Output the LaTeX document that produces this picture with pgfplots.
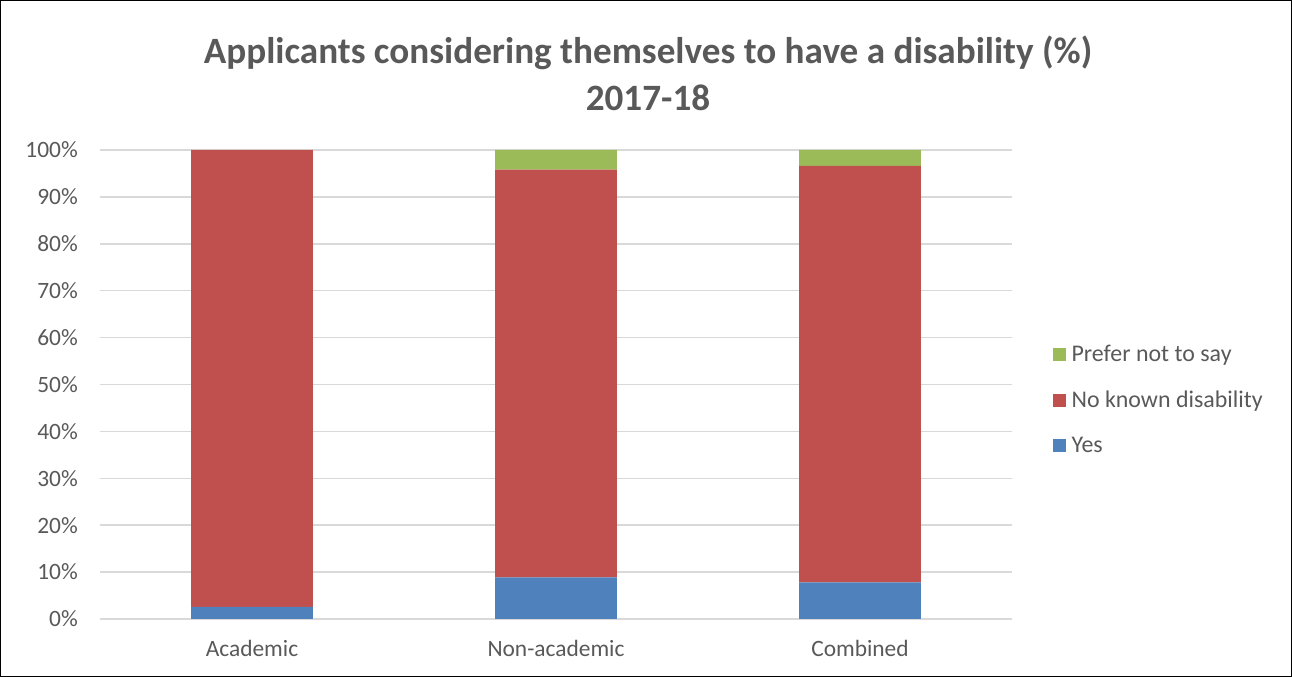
\documentclass[border=0pt]{standalone}
\usepackage{pgfplots}
\pgfplotsset{compat=1.18}
\usepackage{fontspec}
\setmainfont{Carlito}
\definecolor{cblue}{HTML}{4F81BD}
\definecolor{cred}{HTML}{C0504D}
\definecolor{cgreen}{HTML}{9BBB59}
\definecolor{cgrid}{HTML}{D9D9D9}
\definecolor{ctext}{HTML}{595959}
\begin{document}
\begin{tikzpicture}
\path[use as bounding box] (0bp,0bp) rectangle (1292bp,677bp);
\draw[black, line width=1.2bp] (0.6bp,0.6bp) rectangle (1291.4bp,676.4bp);
\node[font=\bfseries\fontsize{37.3}{47}\selectfont, text=ctext, align=center] at (648bp,604bp) {Applicants considering themselves to have a disability (\%)\\2017-18};
\begin{axis}[
  at={(100bp,58bp)}, anchor=south west,
  scale only axis, width=912bp, height=469bp,
  ybar stacked, bar width=0.4,
  xmin=-0.5, xmax=2.5, ymin=0, ymax=100,
  xtick={0,1,2}, xticklabels={Academic,Non-academic,Combined},
  ytick={0,10,...,100},
  yticklabel={\pgfmathprintnumber{\tick}\%},
  /pgf/number format/assume math mode=true,
  axis line style={draw=none},
  major tick length=0,
  ymajorgrids, grid style={cgrid, line width=1.5bp},
  tick label style={font=\fontsize{23.5}{28}\selectfont, text=ctext},
  yticklabel style={inner sep=0pt, xshift=-22bp},
  xticklabel style={inner sep=0pt, anchor=north, yshift=-21bp},
  legend style={at={(1.041,0.468)}, anchor=west, draw=none, fill=none,
    font=\fontsize{24}{28}\selectfont, text=ctext, row sep=24bp,
    /tikz/every odd column/.append style={column sep=4bp}},
  legend cell align=left,
  reverse legend,
  legend image code/.code={\fill[#1] (0bp,-6.5bp) rectangle (13bp,6.5bp);},
]
\addplot[fill=cblue, draw=none] coordinates {(0,2.6) (1,8.9) (2,7.8)};
\addlegendentry{Yes}
\addplot[fill=cred, draw=none] coordinates {(0,97.4) (1,86.9) (2,88.8)};
\addlegendentry{No known disability}
\addplot[fill=cgreen, draw=none] coordinates {(0,0) (1,4.2) (2,3.4)};
\addlegendentry{Prefer not to say}
\end{axis}
\end{tikzpicture}
\end{document}
